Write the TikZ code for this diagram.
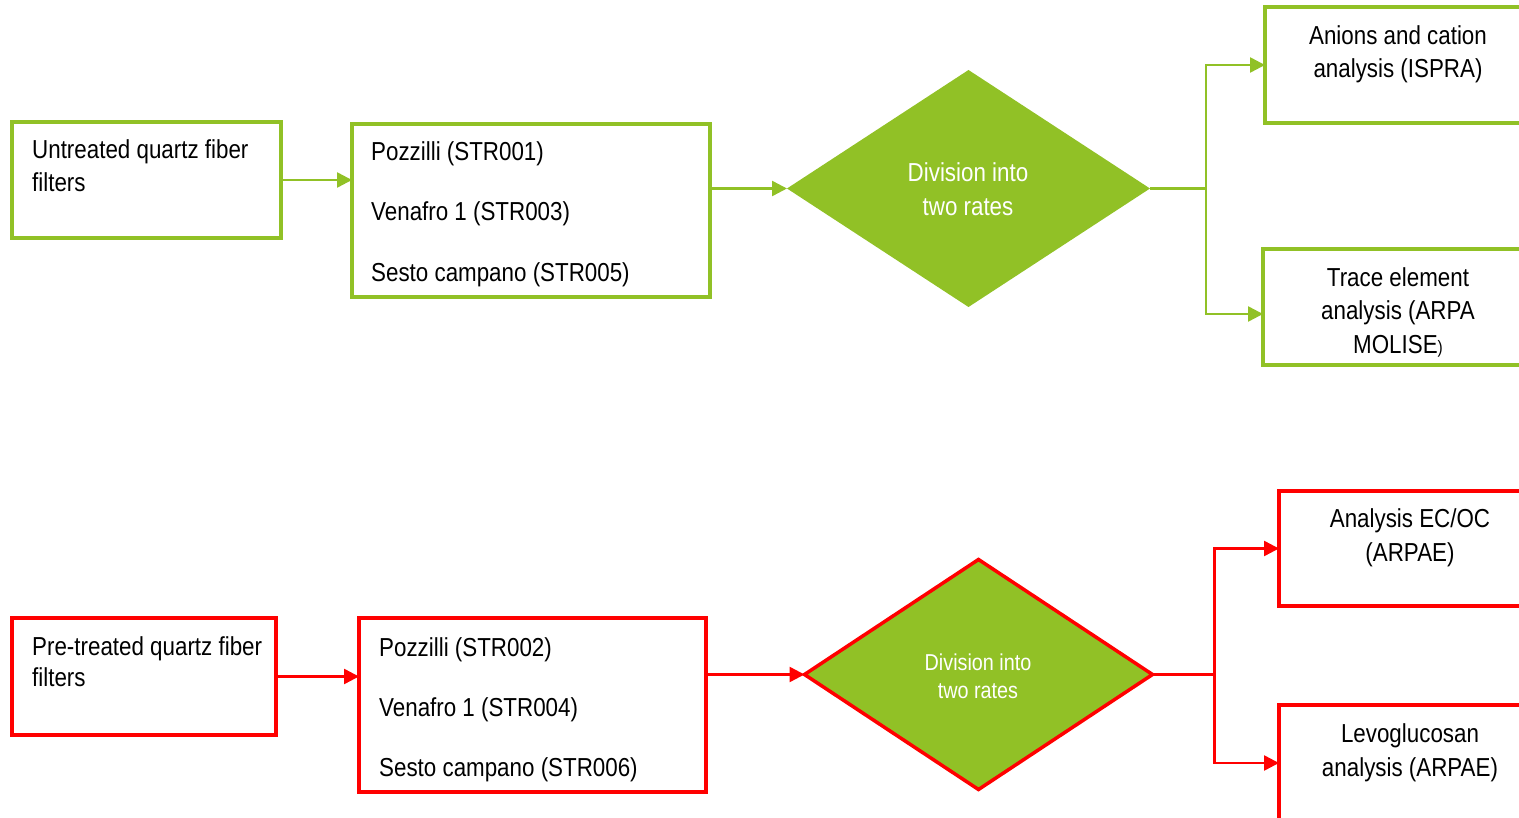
\documentclass[tikz,border=0pt]{standalone}
\usepackage{fontspec}
\setmainfont[FakeStretch=0.86]{Liberation Sans}
\usetikzlibrary{shapes.geometric,arrows.meta,calc}
\definecolor{limec}{RGB}{145,193,38}
\definecolor{redc}{RGB}{255,0,0}
\tikzset{
  gbox/.style={draw=limec,line width=3.5pt,rectangle,inner sep=0pt,outer sep=0pt},
  rbox/.style={draw=redc,line width=3.5pt,rectangle,inner sep=0pt,outer sep=0pt},
  txt/.style={font=\fontsize{26}{32}\selectfont,inner sep=0pt,text=black},
  wtxt/.style={font=\fontsize{26}{32}\selectfont,inner sep=0pt,text=white},
  wtxtsmall/.style={font=\fontsize{23}{28}\selectfont,inner sep=0pt,text=white},
  gline/.style={draw=limec,line width=2.5pt},
  rline/.style={draw=redc,line width=2.5pt},
  garrow/.style={gline,-{Triangle[length=15pt,width=15pt]}},
  rarrow/.style={rline,-{Triangle[length=15pt,width=15pt]}},
}
\begin{document}
\begin{tikzpicture}[x=1pt,y=-1pt]
\useasboundingbox (0,0) rectangle (1519,818);
\clip (0,0) rectangle (1519,818);

% ---------- top row ----------
\node[gbox,minimum width=269pt,minimum height=116pt] (A) at (146.5,180) {};
\node[txt,anchor=base west] (A1) at (32,159) {Untreated quartz fiber};
\node[txt,anchor=base west] (A2) at (32,192) {filters};

\node[gbox,minimum width=358pt,minimum height=173pt] (B) at (531,210.5) {};
\node[txt,anchor=base west] (B1) at (371,161) {Pozzilli (STR001)};
\node[txt,anchor=base west] (B2) at (371,221) {Venafro 1 (STR003)};
\node[txt,anchor=base west] (B3) at (371,282) {Sesto campano (STR005)};

\node[diamond,fill=limec,inner sep=0pt,outer sep=0pt,minimum width=363pt,minimum height=237pt] (D1) at (968.5,188.5) {};
\node[wtxt,anchor=base] (D1a) at (968,182) {Division into};
\node[wtxt,anchor=base] (D1b) at (968,216) {two rates};

\node[gbox,minimum width=266pt,minimum height=116pt] (C) at (1398,65) {};
\node[txt,anchor=base] (C1) at (1398,45) {Anions and cation};
\node[txt,anchor=base] (C2) at (1398,78) {analysis (ISPRA)};

\node[gbox,minimum width=270pt,minimum height=116pt] (Dx) at (1398,307) {};
\node[txt,anchor=base] (Dx1) at (1398,287) {Trace element};
\node[txt,anchor=base] (Dx2) at (1398,320) {analysis (ARPA};
\node[txt,anchor=base] (Dx3) at (1398,354) {MOLISE{\fontsize{18}{22}\selectfont )}};

\draw[garrow] (A.east) -- (A.east -| B.west);
\draw[garrow] (B.east |- D1.west) -- (D1.west);
\draw[gline] (D1.east) -- ++(56,0) coordinate (j1);
\draw[garrow] (j1) |- (C.west);
\draw[garrow] (j1) |- ($(Dx.west)+(0,7)$);

% ---------- bottom row ----------
\node[rbox,minimum width=264pt,minimum height=117pt] (E) at (144,676.5) {};
\node[txt,anchor=base west] (E1) at (32,655) {Pre-treated quartz fiber};
\node[txt,anchor=base west] (E2) at (32,686) {filters};

\node[rbox,minimum width=347pt,minimum height=174pt] (F) at (532.5,705) {};
\node[txt,anchor=base west] (F1) at (379,656) {Pozzilli (STR002)};
\node[txt,anchor=base west] (F2) at (379,716) {Venafro 1 (STR004)};
\node[txt,anchor=base west] (F3) at (379,776) {Sesto campano (STR006)};

\node[diamond,fill=limec,draw=redc,line width=3.5pt,inner sep=0pt,outer sep=0pt,minimum width=348pt,minimum height=230pt] (D2) at (978.5,674.5) {};
\node[wtxtsmall,anchor=base] (D2a) at (978,670) {Division into};
\node[wtxtsmall,anchor=base] (D2b) at (978,698) {two rates};

\node[rbox,minimum width=262pt,minimum height=115pt] (G) at (1410,548.5) {};
\node[txt,anchor=base] (G1) at (1410,527) {Analysis EC/OC};
\node[txt,anchor=base] (G2) at (1410,561) {(ARPAE)};

\node[rbox,minimum width=262pt,minimum height=120pt] (H) at (1410,765) {};
\node[txt,anchor=base] (H1) at (1410,742) {Levoglucosan};
\node[txt,anchor=base] (H2) at (1410,776) {analysis (ARPAE)};

\draw[rarrow] (E.east) -- (E.east -| F.west);
\draw[rarrow] (F.east |- D2.west) -- (D2.west);
\draw[rline] (D2.east) -- ++(62,0) coordinate (j2);
\draw[rarrow] (j2) |- (G.west);
\draw[rarrow] (j2) |- ($(H.west)+(0,-2)$);
\end{tikzpicture}
\end{document}
